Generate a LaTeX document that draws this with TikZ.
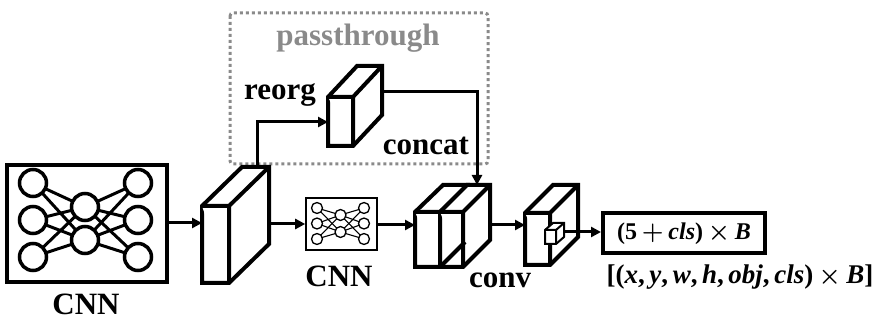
\documentclass[tikz,border=0pt]{standalone}
\usepackage{fontspec}
\setmainfont{Liberation Serif}
\usetikzlibrary{arrows.meta}
\definecolor{pgray}{HTML}{8A8A8A}
\newcommand\mycuboid[7][]{%
  % #2,#3 front top-left ; #4,#5 front bottom-right ; #6 dx ; #7 dy(up)
  \filldraw[cub,#1] (#2,#3) -- ({#2+#6},{#3-#7}) -- ({#4+#6},{#3-#7}) -- ({#4+#6},{#5-#7}) -- (#4,#5) -- (#2,#5) -- cycle;
  \draw[cub,#1] (#2,#3) -- (#4,#3) -- (#4,#5) (#4,#3) -- ({#4+#6},{#3-#7});
}
\newcommand\bi[1]{{\itshape #1}}
\newcommand\msp{\hspace{0.2em}}
\newcommand\csp{,\hspace{0.17em}}
\newcommand\opplus{\msp{\boldmath$+$}\msp}
\newcommand\optimes{\msp{\boldmath$\times$}\msp}
\begin{document}
\begin{tikzpicture}[x=1pt,y=-1pt,
  cub/.style={line width=4pt,draw=black,fill=white,line join=miter},
  arr/.style={line width=3pt,-{Triangle[length=10pt,width=10pt]}},
  lbl/.style={font=\fontsize{31}{31}\selectfont\bfseries,inner sep=0pt},
  bignn/.style={circle,draw,line width=3.5pt,minimum size=27pt,inner sep=0pt,fill=white},
  smallnn/.style={circle,draw,line width=1.3pt,minimum size=11pt,inner sep=0pt,fill=white},
  mathlbl/.style={inner sep=0pt}]
\useasboundingbox (0,0) rectangle (879,320);

% passthrough box
\draw[pgray,line width=3pt,dash pattern=on 3pt off 3pt,rounded corners=3pt] (230,13) rectangle (488,164);
\node[lbl,text=pgray] (pt) at (358,38) {passthrough};

% big CNN box
\node[draw,line width=4pt,minimum width=160pt,minimum height=117pt,inner sep=0pt] (cnn1) at (87,223.5) {};
\foreach \i/\y in {1/183,2/220,3/257}{
  \coordinate (bl\i) at (33,\y);
  \coordinate (br\i) at (138,\y);
}
\coordinate (bm1) at (85,207);
\coordinate (bm2) at (85,240);
\foreach \i in {1,2,3}{\foreach \j in {1,2}{
  \draw[line width=3pt] (bl\i) -- (bm\j);
  \draw[line width=3pt] (br\i) -- (bm\j);
}}
\foreach \n in {bl1,bl2,bl3,br1,br2,br3,bm1,bm2}{\node[bignn] at (\n) {};}
\node[lbl,anchor=base] (cnn1t) at (86,315) {CNN};

% small CNN box
\node[draw,line width=1.6pt,minimum width=71pt,minimum height=52pt,inner sep=0pt] (cnn2) at (341.5,224) {};
\foreach \i/\y in {1/208,2/223.5,3/239}{
  \coordinate (sl\i) at (317,\y);
  \coordinate (sr\i) at (364,\y);
}
\coordinate (sm1) at (340.5,215);
\coordinate (sm2) at (340.5,232);
\foreach \i in {1,2,3}{\foreach \j in {1,2}{
  \draw[line width=1.1pt] (sl\i) -- (sm\j);
  \draw[line width=1.1pt] (sr\i) -- (sm\j);
}}
\foreach \n in {sl1,sl2,sl3,sr1,sr2,sr3,sm1,sm2}{\node[smallnn] at (\n) {};}
\node[lbl,anchor=base] (cnn2t) at (339,287) {CNN};

% cuboids
\mycuboid{202}{206}{229}{283}{40}{39}
\coordinate (c1in) at (202,223);
\coordinate (c1out) at (269,224);
\coordinate (c1top) at (257,167);

\mycuboid{328}{97}{353}{146}{29}{31}
\coordinate (roin) at (328,122);
\coordinate (roout) at (382,92);

\mycuboid{415}{212}{440}{267}{28}{27}
\mycuboid{440}{212}{463}{267}{27}{27}
\draw[cub] (440,267) -- (465,242);
\coordinate (ccin) at (415,225);
\coordinate (ccout) at (490,225);
\coordinate (cctop) at (477,185);
\coordinate (cccorner) at (477,92);

\mycuboid{525}{213}{550}{265}{28}{28}
\mycuboid[line width=2pt]{545}{230}{556}{244}{8}{7}
\coordinate (cvin) at (525,225);
\coordinate (cvout) at (564,232);

% output
\node[draw,line width=4pt,minimum width=162pt,minimum height=40pt,inner sep=0pt] (out) at (684,233) {};
\node[mathlbl,font=\fontsize{24}{24}\selectfont\bfseries] (outt) at (684,234) {(5\opplus\bi{cls})\optimes\bi{B}};
\node[mathlbl,font=\fontsize{27}{27}\selectfont\bfseries] (vec) at (740,277) {[(\bi{x}\csp\bi{y}\csp\bi{w}\csp\bi{h}\csp\bi{obj}\csp\bi{cls})\optimes\bi{B}]};

% labels
\node[lbl,anchor=base] (reorg) at (280,100) {reorg};
\node[lbl,anchor=base] (concat) at (426,155) {concat};
\node[lbl,anchor=base] (conv) at (500,288) {conv};

% connectors
\draw[arr] (cnn1.east |- c1in) -- (c1in);
\draw[arr] (c1out) -- (c1out -| cnn2.west);
\draw[arr] (cnn2.east |- ccin) -- (ccin);
\draw[arr] (ccout) -- (cvin);
\draw[arr] (cvout) -- (cvout -| out.west);
\draw[arr] (c1top) |- (roin);
\draw[arr] (roout) -- (cccorner) -- (cctop);
\end{tikzpicture}
\end{document}
